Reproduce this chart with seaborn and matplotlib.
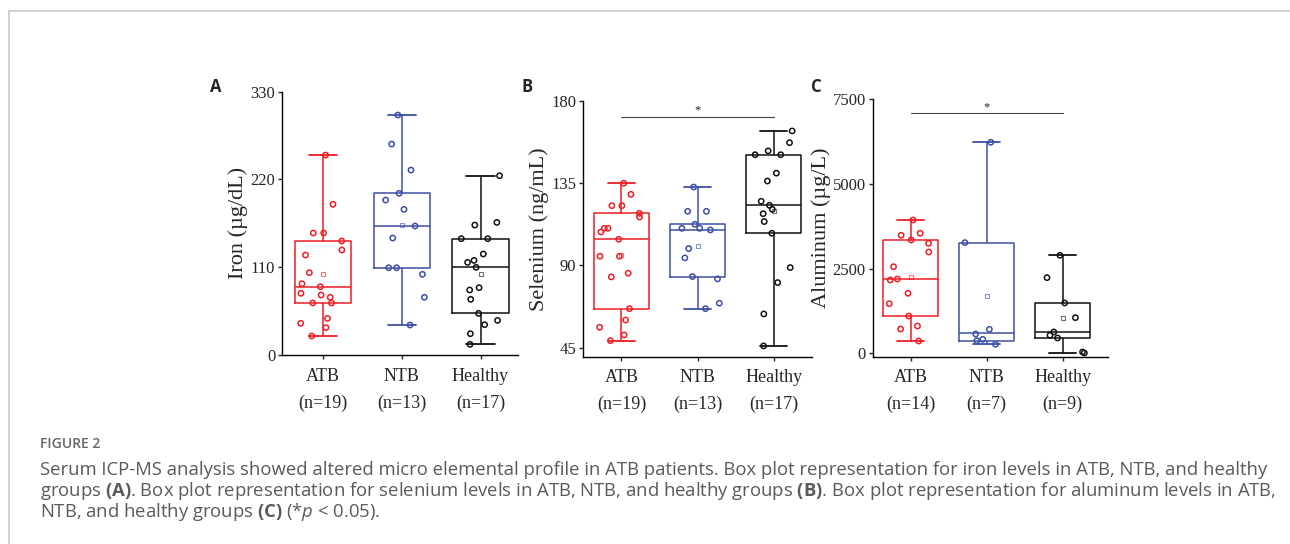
import numpy as np
import pandas as pd
import seaborn as sns
import matplotlib.pyplot as plt
from matplotlib.lines import Line2D

sns.set_style('ticks')
plt.rcParams['font.family'] = ['Liberation Serif', 'DejaVu Serif']
plt.rcParams['mathtext.fontset'] = 'custom'
plt.rcParams['mathtext.rm'] = 'Open Sans'
plt.rcParams['mathtext.bf'] = 'Open Sans:bold'
plt.rcParams['mathtext.it'] = 'Open Sans:italic'

groups = ['ATB', 'NTB', 'Healthy']
colors = ['#ee1d25', '#3d4fa5', '#111111']

# values
iron_atb = [250.6, 188.8, 152.9, 152.9, 142.9, 131.6, 125.3, 103.2, 89.4, 85.6,
            77.3, 75.2, 72.3, 65.2, 65.2, 45.9, 39.7, 34.3, 23.8]
iron_ntb = [300.8, 264.4, 231.8, 202.6, 194.2, 182.5, 161.7, 146.6, 109.4, 109.4,
            101.1, 72.3, 37.6]
iron_healthy = [224.7, 166.2, 162.9, 145.8, 145.8, 126.6, 118.6, 116.1, 109.9, 84.4,
                81.5, 69.8, 52.2, 43.4, 38.0, 26.7, 13.4]

selenium_atb = [135.0, 128.9, 122.7, 122.7, 118.5, 116.5, 110.3, 110.3, 108.3, 104.3,
                95.0, 95.0, 85.7, 83.7, 66.3, 60.1, 56.1, 51.9, 48.8]
selenium_ntb = [132.9, 119.6, 119.6, 112.5, 110.3, 110.3, 109.4, 99.2, 94.1, 83.9,
                82.6, 69.3, 66.3]
selenium_healthy = [163.6, 157.2, 152.7, 150.6, 150.6, 140.5, 136.2, 125.1, 122.9, 120.7,
                    118.3, 114.0, 107.6, 88.8, 80.6, 63.4, 45.9]

aluminum_atb = [3936, 3544, 3485, 3346, 3248, 2991, 2557, 2194, 2165, 1772,
                1465, 1101, 806, 718, 363]
aluminum_ntb = [6231, 3268, 709, 571, 413, 374, 266]
aluminum_healthy = [2894, 2234, 1486, 1053, 630, 532, 453, 39, 10]

# box edges as drawn in the figure (q1, median, q3)
iron_q1 = [65.2, 109.4, 52.2]
iron_med = [85.6, 161.7, 109.9]
iron_q3 = [142.9, 202.6, 145.8]
selenium_q1 = [66.3, 83.9, 107.6]
selenium_med = [104.3, 109.4, 122.9]
selenium_q3 = [118.5, 112.5, 150.6]
aluminum_q1 = [1101, 370, 453]
aluminum_med = [2194, 591, 630]
aluminum_q3 = [3346, 3268, 1486]

n_iron = [19, 13, 17]
n_selenium = [19, 13, 17]
n_aluminum = [14, 7, 9]

iron_ticks = [0, 110, 220, 330]
selenium_ticks = [45, 90, 135, 180]
aluminum_ticks = [0, 2500, 5000, 7500]

selenium_sig = 171.5
aluminum_sig = 7090

caption = [
    "Serum ICP-MS analysis showed altered micro elemental profile in ATB patients. Box plot representation for iron levels in ATB, NTB, and healthy",
    r"groups $\mathbf{(A)}$. Box plot representation for selenium levels in ATB, NTB, and healthy groups $\mathbf{(B)}$. Box plot representation for aluminum levels in ATB,",
    r"NTB, and healthy groups $\mathbf{(C)}$ (*$\mathit{p}$ < 0.05).",
]

fig = plt.figure(figsize=(12.9, 5.44), dpi=100)


def panel(rect, data, q1, med, q3, n, ylabel, ticks, ylim, xlim, label_x, letter, sig=None):
    ax = fig.add_axes(rect)
    df = pd.concat([pd.DataFrame(dict(value=d, group=g)) for d, g in zip(data, groups)])
    np.random.seed(3)
    sns.stripplot(df, x='group', y='value', hue='group', order=groups, hue_order=groups,
                  palette=colors, jitter=0.3, size=3.8, linewidth=1.1, legend=False,
                  zorder=4, ax=ax)
    for coll in ax.collections:
        fc = coll.get_facecolors()
        coll.set_edgecolors(fc)
        coll.set_facecolors('none')

    stats = []
    for i, d in enumerate(data):
        stats.append(dict(q1=q1[i], med=med[i], q3=q3[i], whislo=min(d), whishi=max(d),
                          mean=np.mean(d), fliers=[]))
    res = ax.bxp(stats, positions=[0, 1, 2], widths=0.72, capwidths=0.36, showmeans=True,
                 showfliers=False, manage_ticks=False, patch_artist=False)
    for i, c in enumerate(colors):
        res['boxes'][i].set(color=c, linewidth=1.1)
        res['medians'][i].set(color=c, linewidth=1.1)
        for k in (2 * i, 2 * i + 1):
            res['whiskers'][k].set(color=c, linewidth=1.1)
            res['caps'][k].set(color=c, linewidth=1.3)
        res['means'][i].set(marker='s', markersize=3, markerfacecolor='none',
                            markeredgecolor=c, markeredgewidth=0.8, alpha=0.6)

    ax.set_xlim(*xlim)
    ax.set_ylim(*ylim)
    ax.set_yticks(ticks)
    ax.set_xticks([0, 1, 2])
    ax.set_xticklabels([f'{g}\n(n={k})' for g, k in zip(groups, n)], linespacing=1.75)
    ax.tick_params(axis='y', labelsize=12, length=3, width=1, pad=2)
    ax.tick_params(axis='x', labelsize=13, length=3, width=1, pad=6)
    ax.set_xlabel('')
    ax.set_ylabel(ylabel, fontsize=16)
    ax.yaxis.set_label_coords(label_x, 0.5)
    sns.despine(ax=ax)
    for s in ('left', 'bottom'):
        ax.spines[s].set_linewidth(1.0)
        ax.spines[s].set_color('black')
    if sig is not None:
        ax.plot([0, 2], [sig, sig], color='#444444', linewidth=0.8)
        ax.text(1, sig, '*', ha='center', va='bottom', fontsize=9)
    fig.text(rect[0] - 0.056 if letter == 'A' else rect[0] - 0.048, 0.84, letter,
             fontsize=12, fontweight='bold', family='Open Sans', va='center')
    return ax


panel([0.2188, 0.3474, 0.183, 0.484], [iron_atb, iron_ntb, iron_healthy],
      iron_q1, iron_med, iron_q3, n_iron, 'Iron (µg/dL)', iron_ticks,
      (0, 330), (-0.52, 2.48), -0.145, 'A')
panel([0.4522, 0.3443, 0.1771, 0.470], [selenium_atb, selenium_ntb, selenium_healthy],
      selenium_q1, selenium_med, selenium_q3, n_selenium, 'Selenium (ng/mL)', selenium_ticks,
      (40, 180), (-0.5, 2.5), -0.15, 'B', selenium_sig)
panel([0.6765, 0.3443, 0.1826, 0.4732], [aluminum_atb, aluminum_ntb, aluminum_healthy],
      aluminum_q1, aluminum_med, aluminum_q3, n_aluminum, 'Aluminum (µg/L)', aluminum_ticks,
      (-100, 7500), (-0.5, 2.6), -0.175, 'C', aluminum_sig)

# page frame
fig.add_artist(Line2D([9 / 1290, 1], [1 - 11 / 544, 1 - 11 / 544], color='#cccccc', linewidth=1.3))
fig.add_artist(Line2D([9 / 1290, 9 / 1290], [0, 1 - 11 / 544], color='#cccccc', linewidth=1.3))

fig.text(40 / 1290, 1 - 448 / 544, 'FIGURE 2', fontsize=10, color='#666666',
         family='Open Sans', fontweight='semibold', va='baseline')
for k, line in enumerate(caption):
    fig.text(40 / 1290, 1 - (475 + 21 * k) / 544, line, fontsize=13.3, color='#5a5a5a',
             family='Open Sans', va='baseline')

fig.savefig('out.png', dpi=100)
